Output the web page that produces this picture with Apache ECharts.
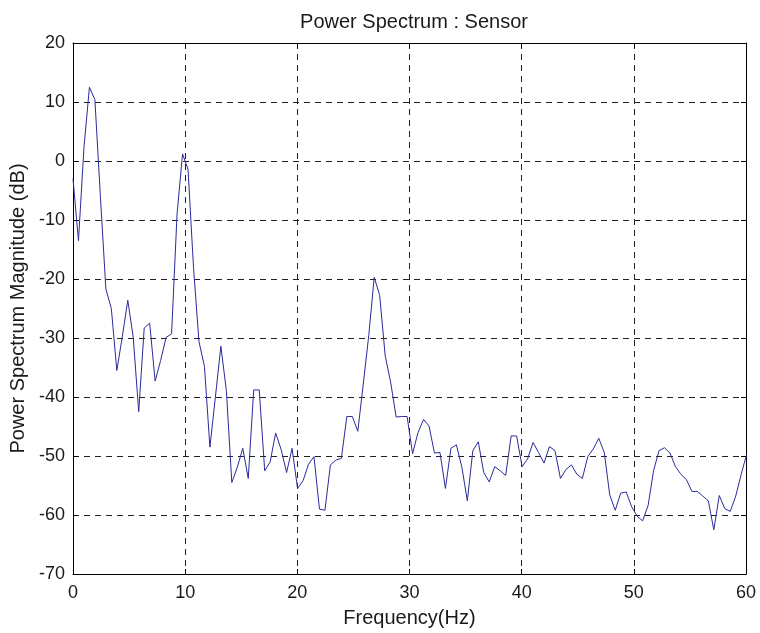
<!DOCTYPE html>
<html>
<head>
<meta charset="utf-8">
<script src="https://cdn.jsdelivr.net/npm/echarts@6/dist/echarts.min.js"></script>
<style>
html,body{margin:0;padding:0;background:#fff;}
#chart{width:760px;height:633px;}
</style>
</head>
<body>
<div id="chart"></div>
<script>
// Frequency bins (Hz)
const freqHz = [
  0, 0.488, 0.977, 1.465, 1.953, 2.441, 2.930, 3.418, 3.906, 4.395,
  4.883, 5.371, 5.859, 6.348, 6.836, 7.324, 7.813, 8.301, 8.789, 9.277,
  9.766, 10.254, 10.742, 11.230, 11.719, 12.207, 12.695, 13.184, 13.672, 14.160,
  14.648, 15.137, 15.625, 16.113, 16.602, 17.090, 17.578, 18.066, 18.555, 19.043,
  19.531, 20.020, 20.508, 20.996, 21.484, 21.973, 22.461, 22.949, 23.438, 23.926,
  24.414, 24.902, 25.391, 25.879, 26.367, 26.855, 27.344, 27.832, 28.320, 28.809,
  29.297, 29.785, 30.273, 30.762, 31.250, 31.738, 32.227, 32.715, 33.203, 33.691,
  34.180, 34.668, 35.156, 35.645, 36.133, 36.621, 37.109, 37.598, 38.086, 38.574,
  39.063, 39.551, 40.039, 40.527, 41.016, 41.504, 41.992, 42.480, 42.969, 43.457,
  43.945, 44.434, 44.922, 45.410, 45.898, 46.387, 46.875, 47.363, 47.852, 48.340,
  48.828, 49.316, 49.805, 50.293, 50.781, 51.270, 51.758, 52.246, 52.734, 53.223,
  53.711, 54.199, 54.688, 55.176, 55.664, 56.152, 56.641, 57.129, 57.617, 58.105,
  58.594, 59.082, 59.570, 60.059
];
// Power spectrum magnitude (dB)
const powerDb = [
  -3.0, -13.5, 2.3, 12.5, 10.4, -6.0, -21.7, -25.0, -35.5, -29.8,
  -23.6, -29.9, -42.5, -28.3, -27.5, -37.3, -33.8, -29.9, -29.3, -9.0,
  1.2, -1.4, -18.0, -30.6, -34.8, -48.5, -40.0, -31.4, -38.9, -54.5,
  -51.9, -48.7, -53.8, -38.8, -38.8, -52.5, -51.0, -46.1, -48.9, -52.8,
  -48.7, -55.5, -54.2, -51.4, -50.1, -59.0, -59.2, -51.5, -50.7, -50.4,
  -43.3, -43.3, -45.8, -37.8, -29.6, -19.7, -22.8, -33.0, -37.5, -43.4,
  -43.3, -43.3, -49.6, -46.0, -43.8, -44.9, -49.5, -49.4, -55.5, -48.7,
  -48.1, -51.9, -57.6, -49.1, -47.6, -52.8, -54.4, -51.8, -52.5, -53.3,
  -46.6, -46.6, -51.8, -50.5, -47.7, -49.4, -51.2, -48.4, -49.1, -53.8,
  -52.3, -51.5, -53.1, -53.8, -50.1, -48.8, -47.0, -49.4, -56.6, -59.2,
  -56.3, -56.1, -58.6, -60.2, -61.0, -58.4, -52.5, -49.1, -48.6, -49.5,
  -51.8, -53.1, -54.0, -56.0, -56.0, -56.8, -57.6, -62.5, -56.7, -58.9,
  -59.4, -56.8, -53.1, -49.7
];
const xTicks = [0, 10, 20, 30, 40, 50, 60];
const yTicks = [20, 10, 0, -10, -20, -30, -40, -50, -60, -70];

const titleText = 'Power Spectrum : Sensor';
const xName = 'Frequency(Hz)';
const yName = 'Power Spectrum Magnitude (dB)';

const FONT = '"Liberation Sans", Arial, Helvetica, sans-serif';
const TEXT_COLOR = '#1a1a1a';
const chart = echarts.init(document.getElementById('chart'), null, {renderer: 'canvas'});

const gridLine = {show: true, lineStyle: {color: '#222', width: 1, type: [6, 5]}};
const axisLineStyle = {show: true, onZero: false, lineStyle: {color: '#000', width: 1}};
const tickStyle = {show: true, inside: true, length: 5, lineStyle: {color: '#000'}};
const xMin = xTicks[0], xMax = xTicks[xTicks.length - 1];
const yMin = yTicks[yTicks.length - 1], yMax = yTicks[0];

const option = {
  backgroundColor: '#fff',
  animation: false,
  title: {
    text: titleText,
    left: 409, textAlign: 'center', top: 7,
    textStyle: {fontFamily: FONT, fontSize: 20, fontWeight: 'normal', color: TEXT_COLOR}
  },
  grid: {left: 73, right: 14, top: 43, bottom: 59, containLabel: false},
  xAxis: [{
    type: 'value', min: xMin, max: xMax, interval: 10, position: 'bottom',
    name: xName, nameLocation: 'middle', nameGap: 34,
    nameTextStyle: {fontFamily: FONT, fontSize: 20, color: TEXT_COLOR},
    axisLine: axisLineStyle,
    axisTick: tickStyle,
    axisLabel: {fontFamily: FONT, fontSize: 18, color: TEXT_COLOR, margin: 10},
    splitLine: gridLine
  }, {
    type: 'value', min: xMin, max: xMax, interval: 10, position: 'top',
    axisLine: axisLineStyle,
    axisTick: tickStyle,
    axisLabel: {show: false}, splitLine: {show: false}
  }],
  yAxis: [{
    type: 'value', min: yMin, max: yMax, interval: 10, position: 'left',
    name: yName, nameLocation: 'middle', nameGap: 39, nameRotate: 90,
    nameTextStyle: {fontFamily: FONT, fontSize: 20, color: TEXT_COLOR},
    axisLine: axisLineStyle,
    axisTick: tickStyle,
    axisLabel: {fontFamily: FONT, fontSize: 18, color: TEXT_COLOR, margin: 8},
    splitLine: gridLine
  }, {
    type: 'value', min: yMin, max: yMax, interval: 10, position: 'right',
    axisLine: axisLineStyle,
    axisTick: tickStyle,
    axisLabel: {show: false}, splitLine: {show: false}
  }],
  series: [{
    type: 'line',
    xAxisIndex: 0, yAxisIndex: 0,
    data: freqHz.map((f, i) => [f, powerDb[i]]),
    showSymbol: false, symbol: 'none',
    lineStyle: {color: '#2b2b9b', width: 1},
    clip: true
  }]
};
chart.setOption(option);
</script>
</body>
</html>
